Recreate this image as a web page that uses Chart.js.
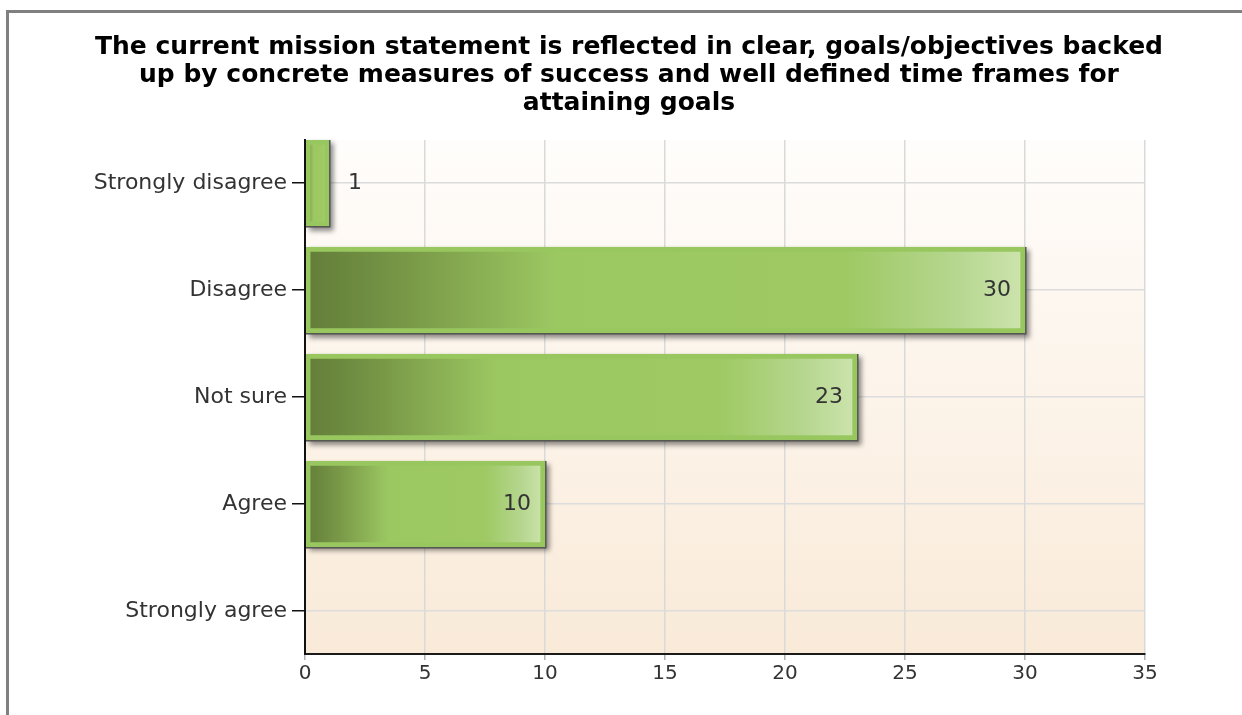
<!DOCTYPE html>
<html>
<head>
<meta charset="utf-8">
<script src="https://cdn.jsdelivr.net/npm/chart.js@4/dist/chart.umd.min.js"></script>
<style>
  body { margin: 0; background: #fff; }
  #frame { position: absolute; left: 6px; top: 10px; width: 1236px; height: 705px;
           border-left: 3px solid #808080; border-top: 3px solid #808080; }
  #wrap { position: absolute; left: 0; top: 0; width: 1242px; height: 715px; }
</style>
</head>
<body>
<div id="frame"></div>
<div id="wrap"><canvas id="survey-chart" width="1242" height="715"></canvas></div>
<script>
const titleLines = [
  'The current mission statement is reflected in clear, goals/objectives backed',
  'up by concrete measures of success and well defined time frames for',
  'attaining goals'
];
const categories = ['Strongly disagree', 'Disagree', 'Not sure', 'Agree', 'Strongly agree'];
const responses = [1, 30, 23, 10, 0];
const xTicks = [0, 5, 10, 15, 20, 25, 30, 35];

const labelFont = { family: 'DejaVu Sans', size: 22 };

// warm gradient behind the plot
const plotBackground = {
  id: 'plotBackground',
  beforeDraw(chart) {
    const { ctx, chartArea: a } = chart;
    let g = ctx.createLinearGradient(0, a.top, 0, a.bottom);
    g.addColorStop(0, '#fffdfb');
    g.addColorStop(1, '#f9ead8');
    ctx.save();
    ctx.fillStyle = g;
    ctx.fillRect(a.left, a.top, a.right - a.left, a.bottom - a.top);
    ctx.restore();
  }
};

// drop shadow under each bar, then the value text and the left axis line on top
const barExtras = {
  id: 'barExtras',
  beforeDatasetsDraw(chart) {
    const ctx = chart.ctx;
    chart.getDatasetMeta(0).data.forEach((el, i) => {
      if (!responses[i]) return;
      const p = el.getProps(['x', 'y', 'base', 'height'], true);
      ctx.save();
      ctx.shadowColor = 'rgba(0,0,0,0.45)';
      ctx.shadowBlur = 5;
      ctx.shadowOffsetX = 3;
      ctx.shadowOffsetY = 3;
      ctx.fillStyle = '#505050';
      ctx.fillRect(p.base, p.y - p.height / 2, p.x - p.base + 1.5, p.height + 1.5);
      ctx.restore();
    });
  },
  afterDatasetsDraw(chart) {
    const ctx = chart.ctx;
    const a = chart.chartArea;
    ctx.save();
    ctx.strokeStyle = '#111';
    ctx.lineWidth = 2;
    ctx.beginPath();
    ctx.moveTo(a.left, a.top);
    ctx.lineTo(a.left, a.bottom);
    ctx.stroke();

    ctx.font = '22px "DejaVu Sans"';
    ctx.fillStyle = '#333';
    ctx.textBaseline = 'middle';
    chart.getDatasetMeta(0).data.forEach((el, i) => {
      if (!responses[i]) return;
      const p = el.getProps(['x', 'y', 'base'], true);
      if (p.x - p.base > 60) {
        ctx.textAlign = 'right';
        ctx.fillText(String(responses[i]), p.x - 14, p.y);
      } else {
        ctx.textAlign = 'left';
        ctx.fillText(String(responses[i]), p.x + 19, p.y);
      }
    });
    ctx.restore();
  }
};

function barGradient(context) {
  const chart = context.chart;
  if (!chart.chartArea || !context.raw) return '#9cc862';
  const x0 = chart.scales.x.getPixelForValue(0);
  const x1 = chart.scales.x.getPixelForValue(context.raw.x);
  if (x1 - x0 < 1) return '#9cc862';
  let g = chart.ctx.createLinearGradient(x0, 0, x1, 0);
  g.addColorStop(0, '#627d39');
  g.addColorStop(0.15, '#7a9a48');
  g.addColorStop(0.35, '#9cc862');
  g.addColorStop(0.75, '#9ec963');
  g.addColorStop(0.9, '#b5d68e');
  g.addColorStop(1, '#cde4ae');
  return g;
}

let ctx = document.getElementById('survey-chart').getContext('2d');
new Chart(ctx, {
  type: 'bar',
  data: {
    datasets: [{
      label: 'Responses',
      data: responses.map((v, i) => ({ x: v, y: i })),
      backgroundColor: barGradient,
      borderColor: '#99c75f',
      borderWidth: 5,
      borderSkipped: false,
      barThickness: 86
    }]
  },
  plugins: [plotBackground, barExtras],
  options: {
    indexAxis: 'y',
    responsive: false,
    animation: false,
    layout: { padding: { left: 32, right: 16, top: 0, bottom: 0 } },
    plugins: {
      legend: { display: false },
      tooltip: { enabled: false },
      title: {
        display: true,
        text: titleLines,
        color: '#000',
        font: { family: 'DejaVu Sans', size: 25, weight: 'bold', lineHeight: 28 / 25 },
        padding: { top: 33, bottom: 23 }
      }
    },
    scales: {
      x: {
        type: 'linear',
        min: 0,
        max: 35,
        afterBuildTicks: s => { s.ticks = xTicks.map(v => ({ value: v })); },
        afterFit: s => { s.height = 61; },
        grid: { color: '#d9d9d9', lineWidth: 1.5, tickLength: 6, tickColor: '#b0b0b0' },
        border: { color: '#1a1a1a', width: 2 },
        ticks: { color: '#333', font: { family: 'DejaVu Sans', size: 20 }, padding: 2 }
      },
      y: {
        type: 'linear',
        reverse: true,
        bounds: 'data',
        offset: false,
        min: -0.402,
        max: 4.402,
        afterBuildTicks: s => { s.ticks = categories.map((_, i) => ({ value: i })); },
        afterFit: s => { s.width = 273; },
        grid: { offset: false, color: '#dcdcdc', lineWidth: 1.5, tickLength: 13, tickColor: '#111' },
        border: { color: '#111', width: 2 },
        ticks: {
          color: '#333',
          font: labelFont,
          padding: 5,
          callback: v => categories[v]
        }
      },
      // empty right-hand box that keeps the plot's right edge in place
      spacer: {
        type: 'linear',
        position: 'right',
        afterFit: s => { s.width = 81; },
        grid: { display: false },
        border: { display: false },
        ticks: { display: false }
      }
    }
  }
});
</script>
</body>
</html>
